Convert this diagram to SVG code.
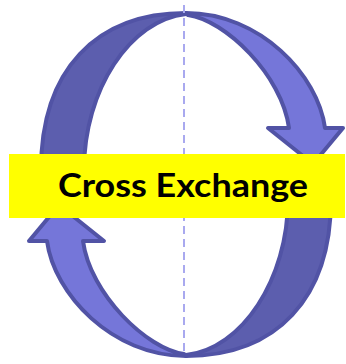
<svg xmlns="http://www.w3.org/2000/svg" xmlns:xlink="http://www.w3.org/1999/xlink" width="346" height="364" viewBox="0 0 346 364">
  <style>
    .back { fill: #5c5eae; stroke: #5153a5; stroke-width: 4; stroke-linejoin: round; }
    .front { fill: #7576d9; stroke: #5153a5; stroke-width: 4; stroke-linejoin: round; }
    .axis { stroke: #a9a9ef; stroke-width: 2; stroke-dasharray: 8 5; fill: none; }
    .box { fill: #ffff00; }
    .label { font-family: "Lato", "Open Sans", "Liberation Sans", sans-serif; font-weight: 700; font-size: 33px; fill: #000000; }
  </style>
  <defs>
    <g id="curved-arrow">
      <path class="back" d="M 186,13 C 96,13 41,70 41,170 L 41,186 L 84,186 L 84,170 C 84,90 130,20 186,14 Z"/>
      <path class="front" d="M 186,13 C 260,13 318,75 325,128 L 343,128 L 313,164 L 268,128 L 289,128 C 282,75 225,20 188,15 Z"/>
    </g>
  </defs>
  <g id="arrow-top">
    <use xlink:href="#curved-arrow"/>
  </g>
  <g id="arrow-bottom">
    <use xlink:href="#curved-arrow" transform="rotate(180 186 184.5)"/>
  </g>
  <g id="connectors">
    <line class="axis" x1="184" y1="5" x2="184" y2="352"/>
  </g>
  <g id="label">
    <rect class="box" x="9" y="154" width="336" height="64"/>
    <text class="label" x="183" y="197" text-anchor="middle" textLength="250" lengthAdjust="spacingAndGlyphs">Cross Exchange</text>
  </g>
</svg>
